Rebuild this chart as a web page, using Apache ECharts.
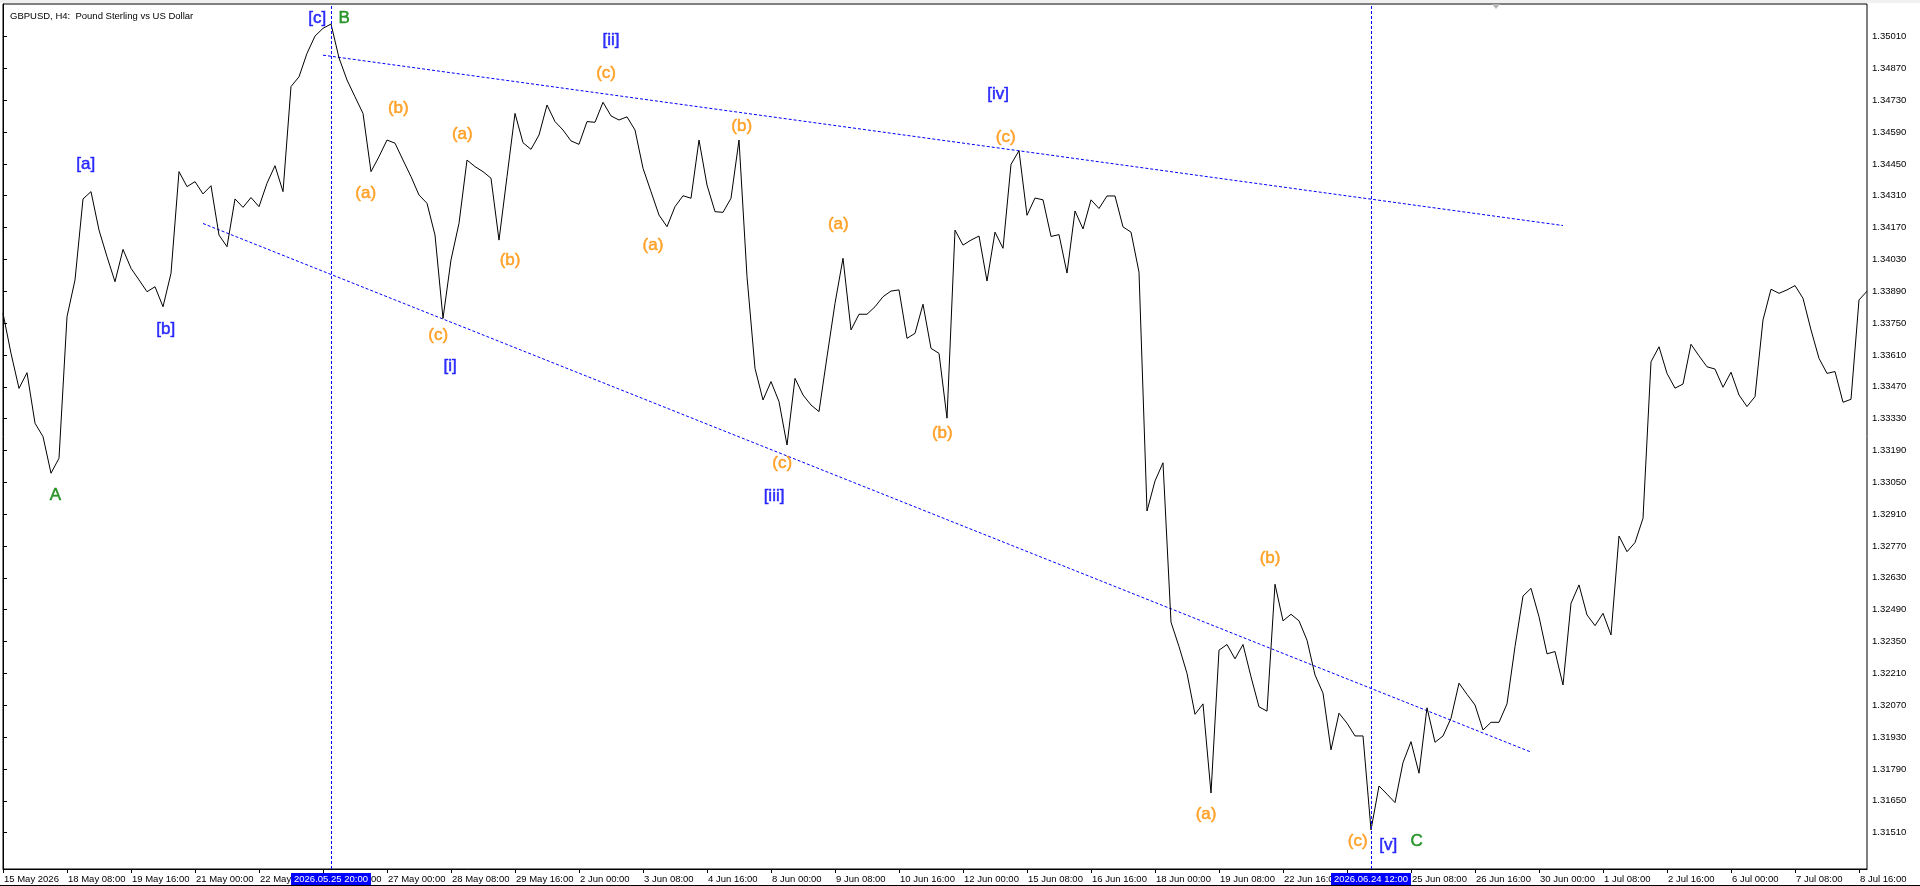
<!DOCTYPE html>
<html>
<head>
<meta charset="utf-8">
<script src="https://cdn.jsdelivr.net/npm/echarts@6/dist/echarts.min.js"></script>
<style>
html,body{margin:0;padding:0;background:#fff;}
#chart{width:1920px;height:886px;}
</style>
</head>
<body>
<div id="chart"></div>
<script>
// ---- DATA ----
const chartTitle = "GBPUSD, H4:  Pound Sterling vs US Dollar";

// H4 closes, 15 May 2026 00:00 onwards (weekday bars)
const closesMay = [
1.33793,1.33617,1.33463,1.33532,1.33310,1.33251,1.33090,1.33156,1.33778,1.33940,
1.34296,1.34328,1.34159,1.34042,1.33932,1.34074,1.33991,1.33940,1.33888,1.33910,
1.33822,1.33969,1.34416,1.34350,1.34372,1.34318,1.34354,1.34137,1.34086,1.34296,
1.34259,1.34302,1.34262,1.34365,1.34442,1.34328,1.34790,1.34833,1.34936,1.35012,
1.35046,1.35065,1.34916,1.34819,1.34745,1.34672,1.34416,1.34482,1.34555,1.34541,
1.34467,1.34394,1.34313,1.34277,1.34137,1.33771,1.34028,1.34189,1.34467,1.34438,
1.34416,1.34387,1.34115,1.34394,1.34672,1.34543
];
const closesJunA = [
1.34514,1.34577,1.34709,1.34636,1.34599,1.34551,1.34536,1.34636,1.34633,1.34721,
1.34661,1.34643,1.34657,1.34599,1.34431,1.34328,1.34225,1.34174,1.34262,1.34310,
1.34299,1.34555,1.34357,1.34240,1.34237,1.34299,1.34555,1.33954,1.33551,1.33412,
1.33493,1.33405,1.33214,1.33507,1.33434,1.33390,1.33361,1.33602,1.33837,1.34035,
1.33720,1.33789,1.33789,1.33822,1.33866,1.33891,1.33896,1.33683,1.33705,1.33833,
1.33639,1.33617,1.33332,1.34159,1.34093,1.34115,1.34133,1.33935,1.34150,1.34079
];
const closesJunB = [
1.34448,1.34508,1.34224,1.34300,1.34292,1.34131,1.34139,1.33970,1.34243,1.34164,
1.34292,1.34254,1.34309,1.34309,1.34173,1.34150,1.33974,1.32924,1.33056,1.33136,
1.32435,1.32328,1.32210,1.32030,1.32076,1.31684,1.32312,1.32337,1.32274,1.32337,
1.32195,1.32063,1.32044,1.32602,1.32441,1.32470,1.32441,1.32356,1.32203,1.32123,
1.31874,1.32035,1.31991,1.31935,1.31935,1.31522,1.31715,1.31679,1.31642,1.31818,
1.31910,1.31771,1.32059,1.31907,1.31935,1.32013,1.32167,1.32118,1.32071,1.31961,
1.31995,1.31995,1.32076,1.32328,1.32550,1.32584,1.32459,1.32296,1.32306,1.32159,
1.32518,1.32599
];
const closesJul = [
1.32467,1.32420,1.32474,1.32379,1.32814,1.32745,1.32785,1.32892,1.33580,1.33646,
1.33529,1.33464,1.33482,1.33657,1.33606,1.33558,1.33548,1.33468,1.33534,1.33434,
1.33383,1.33427,1.33764,1.33899,1.33881,1.33896,1.33915,1.33859,1.33720,1.33595,
1.33529,1.33537,1.33402,1.33415,1.33852,1.33890
];

const xTickLabels = ["15 May 2026","18 May 08:00","19 May 16:00","21 May 00:00","22 May 08:00","25 May 16:00",
"27 May 00:00","28 May 08:00","29 May 16:00","2 Jun 00:00","3 Jun 08:00","4 Jun 16:00","8 Jun 00:00",
"9 Jun 08:00","10 Jun 16:00","12 Jun 00:00","15 Jun 08:00","16 Jun 16:00","18 Jun 00:00","19 Jun 08:00",
"22 Jun 16:00","24 Jun 00:00","25 Jun 08:00","26 Jun 16:00","30 Jun 00:00","1 Jul 08:00","2 Jul 16:00",
"6 Jul 00:00","7 Jul 08:00","8 Jul 16:00"];
const xTickEvery = 8;

const yTickValues = [1.35010,1.34870,1.34730,1.34590,1.34450,1.34310,1.34170,1.34030,1.33890,1.33750,
1.33610,1.33470,1.33330,1.33190,1.33050,1.32910,1.32770,1.32630,1.32490,1.32350,1.32210,1.32070,
1.31930,1.31790,1.31650,1.31510];
const yMin = 1.31350, yMax = 1.35153;

// vertical markers: bar index + caption
const vLineIdx = [41, 171];
const vLineText = ["2026.05.25 20:00", "2026.06.24 12:00"];

// trend lines: [barIndex, price] pairs
const trendUpper = [[40, 1.34928], [195, 1.34179]];
const trendLower = [[25, 1.34188], [191, 1.31864]];

// wave labels: text, group, bar index, price
const waveText  = ["A","B","C","[a]","[b]","[c]","[i]","[ii]","[iii]","[iv]","[v]",
  "(a)","(b)","(c)","(a)","(b)","(c)","(a)","(b)","(c)","(a)","(b)","(c)","(a)","(b)","(c)"];
const waveGroup = ["g","g","g","b","b","b","b","b","b","b","b",
  "o","o","o","o","o","o","o","o","o","o","o","o","o","o","o"];
const waveIdx   = [6.56,42.66,176.71,10.34,20.34,39.28,55.88,76.0,96.38,124.38,173.16,
  45.34,49.41,54.41,57.41,63.38,75.38,81.25,92.34,97.41,104.41,117.41,125.34,150.38,158.38,169.34];
const wavePrice = [1.32994,1.35090,1.31473,1.34450,1.33724,1.35090,1.33558,1.34993,1.32990,1.34757,1.31453,
  1.34321,1.34694,1.33698,1.34581,1.34028,1.34848,1.34093,1.34614,1.33134,1.34184,1.33266,1.34565,1.31592,1.32716,1.31473];

// ---- BUILD ----
const closes = closesMay.concat(closesJunA, closesJunB, closesJul);
function pad(n){return (n<10?'0':'')+n;}
const times = [];
(function(){
  let t = Date.UTC(2026,4,15,0,0);
  while (times.length < closes.length) {
    const d = new Date(t);
    const wd = d.getUTCDay();
    if (wd >= 1 && wd <= 5) times.push(d.getUTCFullYear()+'.'+pad(d.getUTCMonth()+1)+'.'+pad(d.getUTCDate())+' '+pad(d.getUTCHours())+':00');
    t += 4*3600*1000;
  }
})();

const colors = {g:'#008000', b:'#0000FF', o:'#FF9000'};
const FONT = '"Liberation Sans", Arial, sans-serif';
const BLUE = '#0000FF';

const chart = echarts.init(document.getElementById('chart'), null, {renderer:'canvas'});
const gridL = 3, gridR = 53, gridT = 4, gridB = 17;

const option = {
  animation: false,
  backgroundColor: '#ffffff',
  title: {
    text: chartTitle, left: 5, top: 6,
    textStyle: {fontFamily: FONT, fontSize: 9.5, fontWeight: 'normal', color: '#000'}
  },
  grid: {left: gridL, right: gridR, top: gridT, bottom: gridB, show: true,
         borderColor: '#000', borderWidth: 1, backgroundColor: '#fff'},
  xAxis: [{
    type: 'category', data: times, boundaryGap: false,
    axisLine: {show: true, lineStyle: {color: '#000', width: 1}},
    axisTick: {show: true, length: 4, interval: (i) => i % xTickEvery === 0, lineStyle: {color: '#000'}},
    axisLabel: {
      show: true, interval: (i) => i % xTickEvery === 0, align: 'left', margin: 5,
      hideOverlap: false, padding: [0,0,0,1],
      fontFamily: FONT, fontSize: 9.5, color: '#000',
      formatter: (v, i) => (i % xTickEvery === 0 ? (xTickLabels[i / xTickEvery] || '') : '')
    },
    splitLine: {show: false}
  }, {
    type: 'value', min: 0, max: closes.length - 1, show: false
  }],
  yAxis: {
    type: 'value', position: 'right', min: yMin, max: yMax,
    axisLine: {show: true, lineStyle: {color: '#000', width: 1}},
    axisTick: {show: true, inside: false, length: 4, customValues: yTickValues, lineStyle: {color: '#000'}},
    axisLabel: {show: true, margin: 5, customValues: yTickValues, fontFamily: FONT, fontSize: 9.5, color: '#000',
      formatter: (v) => v.toFixed(5)},
    splitLine: {show: false}
  },
  series: [
    {
      type: 'line', data: closes, xAxisIndex: 0, showSymbol: false, symbol: 'none',
      lineStyle: {color: '#000', width: 1}, z: 3, silent: true,
      markLine: {
        silent: true, symbol: ['none','none'],
        lineStyle: {color: BLUE, type: [3,2], width: 1},
        label: {show: false},
        data: vLineIdx.map(i => ({xAxis: i}))
      }
    },
    {
      type: 'line', xAxisIndex: 1, data: trendUpper, showSymbol: false, symbol: 'none',
      lineStyle: {color: BLUE, type: [3,2], width: 1}, z: 2, silent: true
    },
    {
      type: 'line', xAxisIndex: 1, data: trendLower, showSymbol: false, symbol: 'none',
      lineStyle: {color: BLUE, type: [3,2], width: 1}, z: 2, silent: true
    },
    {
      type: 'scatter', xAxisIndex: 1, symbolSize: 0, z: 5, silent: true,
      data: waveText.map((t, k) => ({
        value: [waveIdx[k], wavePrice[k]],
        label: {show: true, position: 'inside', formatter: t,
          color: colors[waveGroup[k]], fontFamily: FONT, fontSize: 17,
          textBorderColor: colors[waveGroup[k]], textBorderWidth: 0.5}
      }))
    }
  ]
};
chart.setOption(option);

// window chrome and time captions under the vertical markers (positions from the axis scale)
const g = [];
g.push({type: 'rect', shape: {x: 0, y: 0, width: 1920, height: 3}, style: {fill: '#f0f0f0'}, z: 100});
g.push({type: 'rect', shape: {x: 0, y: 885, width: 1920, height: 1}, style: {fill: '#000'}, z: 99});
g.push({type: 'polygon', shape: {points: [[1492, 4], [1500, 4], [1496, 9]]}, style: {fill: '#b4b4b4'}, z: 100});
vLineIdx.forEach((idx, k) => {
  const x = chart.convertToPixel({xAxisIndex: 0}, idx);
  g.push({
    type: 'text', x: x, y: 886 - gridB + 4, z: 100,
    style: {text: vLineText[k], fill: '#fff', backgroundColor: BLUE, padding: [1,3,1,3],
      font: '9.5px ' + FONT, align: 'center', verticalAlign: 'top'}
  });
});
chart.setOption({graphic: g});
</script>
</body>
</html>
